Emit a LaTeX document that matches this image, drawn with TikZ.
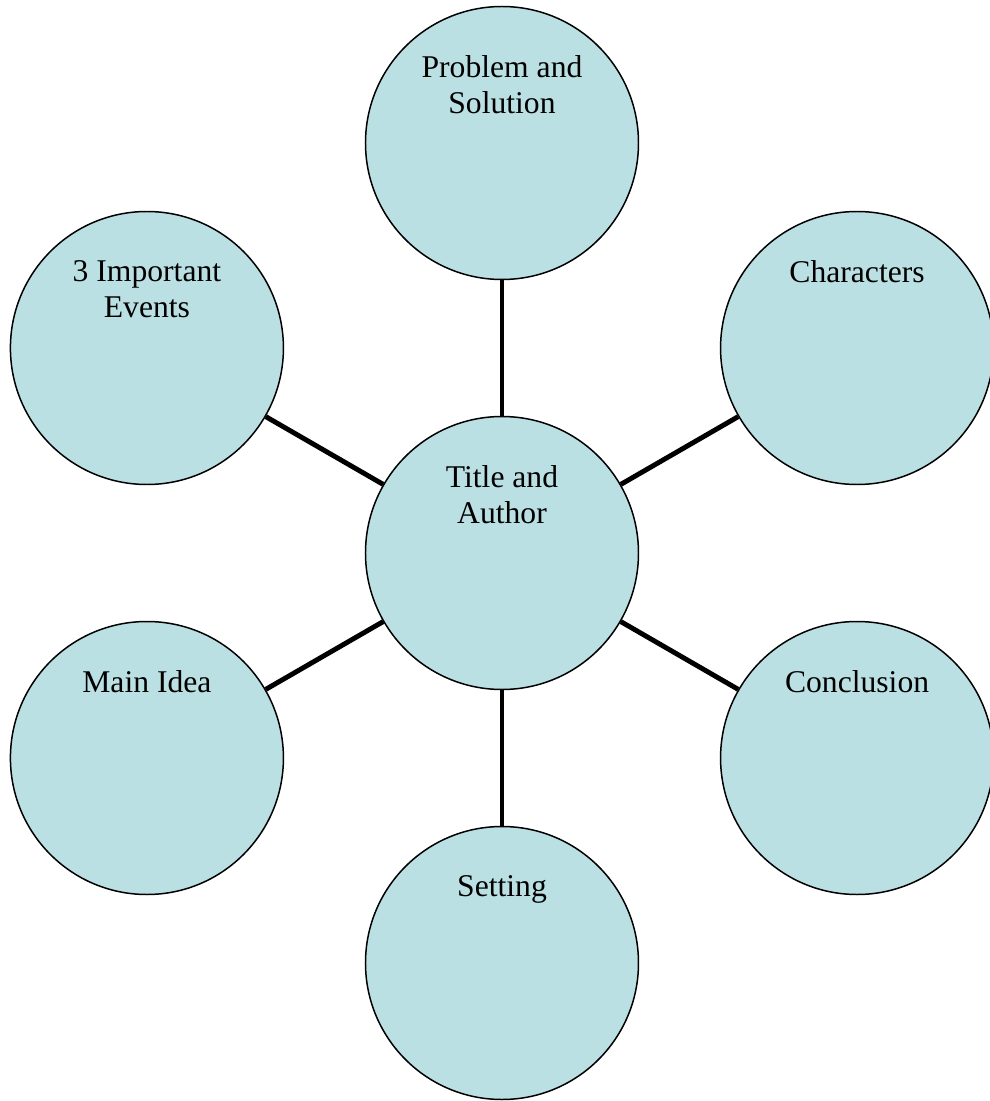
\documentclass[tikz,border=0pt]{standalone}
\usepackage{fontspec}
\setmainfont{Liberation Serif}
\usepackage{xcolor}
\usetikzlibrary{positioning}
\definecolor{bubbleblue}{RGB}{187,224,227}

\begin{document}
\begin{tikzpicture}[node distance=2cm, auto,
    bubble/.style={circle, draw=black, line width=0.85pt, fill=bubbleblue, minimum size=5.46cm, inner sep=0pt},
    caption/.style={align=center, inner sep=0pt, font=\fontsize{18}{20.7}\selectfont},
    spoke/.style={line width=2.8pt, black}]
            \useasboundingbox (-10.04,-10.96) rectangle (9.76,11.06);
            \node[bubble] (title_author) at (0,0) {};
            \node[bubble] (problem_solution) at (90:8.2) {};
            \node[bubble] (characters) at (30:8.2) {};
            \node[bubble] (events) at (150:8.2) {};
            \node[bubble] (main_idea) at (210:8.2) {};
            \node[bubble] (conclusion) at (330:8.2) {};
            \node[bubble] (setting) at (270:8.2) {};
            \node[caption, below=0.98cm of title_author.north] (title_author_text) {Title and \\ Author};
            \node[caption, below=0.98cm of problem_solution.north] (problem_solution_text) {Problem and \\ Solution};
            \node[caption, below=0.98cm of characters.north] (characters_text) {Characters};
            \node[caption, below=0.98cm of events.north] (events_text) {3 Important \\ Events};
            \node[caption, below=0.98cm of main_idea.north] (main_idea_text) {Main Idea};
            \node[caption, below=0.98cm of conclusion.north] (conclusion_text) {Conclusion};
            \node[caption, below=0.98cm of setting.north] (setting_text) {Setting};
            \draw[spoke] (title_author) -- (problem_solution);
            \draw[spoke] (title_author) -- (characters);
            \draw[spoke] (title_author) -- (events);
            \draw[spoke] (title_author) -- (main_idea);
            \draw[spoke] (title_author) -- (conclusion);
            \draw[spoke] (title_author) -- (setting);
        \end{tikzpicture}
\end{document}
